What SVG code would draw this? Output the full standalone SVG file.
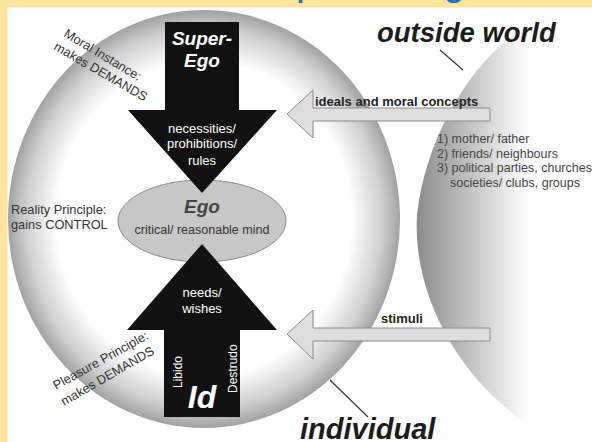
<svg xmlns="http://www.w3.org/2000/svg" width="592" height="442" viewBox="0 0 592 442">
<style>
text{font-family:"Liberation Sans",Arial,sans-serif}
.bi{font-weight:bold;font-style:italic}
.w{fill:#fff}
.lbl{fill:#333;font-size:12.8px}
.lst{fill:#444;font-size:12.5px}
.blk{fill:#111}
.garr{fill:#dedede;stroke:#8a8a8a;stroke-width:1}
.ptr{stroke:#333;stroke-width:1.2;fill:none}
</style>
<defs>
<radialGradient id="gInd" cx="204" cy="219" r="205" gradientUnits="userSpaceOnUse" gradientTransform="translate(204 219) scale(1 1.066) translate(-204 -219)">
<stop offset="0" stop-color="#fff"/>
<stop offset="0.72" stop-color="#fff"/>
<stop offset="0.87" stop-color="#cfcfcf"/>
<stop offset="1" stop-color="#8a8a8a"/>
</radialGradient>
<linearGradient id="gOut" x1="417" y1="0" x2="528" y2="0" gradientUnits="userSpaceOnUse">
<stop offset="0" stop-color="#8c8c8c"/>
<stop offset="1" stop-color="#fff"/>
</linearGradient>
<clipPath id="top"><rect x="0" y="0" width="592" height="7.5"/></clipPath>
</defs>
<rect width="592" height="442" fill="#fff"/>
<rect x="0" y="0" width="592" height="7.5" fill="#fee59c"/>
<rect x="0" y="0" width="7.5" height="442" fill="#fee59c"/>
<text clip-path="url(#top)" y="-5.5" fill="#1a74c9" font-size="40"><tspan x="296">p</tspan><tspan x="443">g</tspan></text>

<g id="outside-world">
<path d="M 525,28 C 470,60 425,140 417,215 C 412,300 465,385 530,425 L 592,425 L 592,28 Z" fill="url(#gOut)"/>
<text x="377" y="42" class="bi" font-size="27.5" fill="#1c1c1c">outside world</text>
<text class="lst"><tspan x="437" y="143">1) mother/ father</tspan><tspan x="437" y="158">2) friends/ neighbours</tspan><tspan x="437" y="172">3) political parties, churches</tspan><tspan x="450" y="187">societies/ clubs, groups</tspan></text>
</g>

<g id="individual">
<ellipse cx="204" cy="219" rx="196" ry="209" fill="url(#gInd)"/>
<text x="300" y="439" class="bi" font-size="29" fill="#1c1c1c">individual</text>
<text class="lbl" transform="translate(63 36) rotate(31)">Moral Instance:</text>
<text class="lbl" transform="translate(53 49) rotate(30)">makes DEMANDS</text>
<text class="lbl" x="11" y="214">Reality Principle:</text>
<text class="lbl" x="11" y="229">gains CONTROL</text>
<text class="lbl" transform="translate(56 390) rotate(-29)">Pleasure Principle:</text>
<text class="lbl" transform="translate(64 406) rotate(-30)">makes DEMANDS</text>
</g>

<g id="ego">
<ellipse cx="202" cy="221" rx="84" ry="41" fill="#c8c8c8" stroke="#8a8a8a" stroke-width="1"/>
<text x="202" y="213" text-anchor="middle" class="bi" font-size="19" fill="#444">Ego</text>
<text x="202" y="234" text-anchor="middle" font-size="12.5" fill="#333">critical/ reasonable mind</text>
</g>

<g id="super-ego">
<path class="blk" d="M 165,22 L 239,22 L 239,110 L 277,110 L 202,193 L 128,110 L 165,110 Z"/>
<text x="202" y="45" text-anchor="middle" class="bi w" font-size="19">Super-</text>
<text x="202" y="67" text-anchor="middle" class="bi w" font-size="19">Ego</text>
<text x="202" y="133" text-anchor="middle" class="w" font-size="13">necessities/</text>
<text x="202" y="148" text-anchor="middle" class="w" font-size="13">prohibitions/</text>
<text x="202" y="165" text-anchor="middle" class="w" font-size="13">rules</text>
</g>

<g id="id">
<path class="blk" d="M 164,417 L 240,417 L 240,330 L 277,330 L 202,244 L 127,330 L 164,330 Z"/>
<text x="202" y="297" text-anchor="middle" class="w" font-size="13">needs/</text>
<text x="202" y="313" text-anchor="middle" class="w" font-size="13">wishes</text>
<text x="202" y="408" text-anchor="middle" class="bi w" font-size="32">Id</text>
<text class="w" font-size="12" transform="translate(182 388) rotate(-90)">Libido</text>
<text class="w" font-size="12" transform="translate(237 393) rotate(-90)">Destrudo</text>
</g>

<g id="connectors">
<path class="garr" d="M 490,108 L 313,108 L 313,90 L 287,114 L 313,138 L 313,121 L 490,121 Z"/>
<text x="315" y="106" font-weight="bold" font-size="13" fill="#222">ideals and moral concepts</text>
<path class="garr" d="M 490,328 L 313,328 L 313,310 L 287,334 L 313,359 L 313,341 L 490,341 Z"/>
<text x="402" y="323" text-anchor="middle" font-weight="bold" font-size="13" fill="#222">stimuli</text>
<line class="ptr" x1="440" y1="50" x2="463" y2="70"/>
<line class="ptr" x1="330" y1="380" x2="368" y2="417"/>
</g>
</svg>
